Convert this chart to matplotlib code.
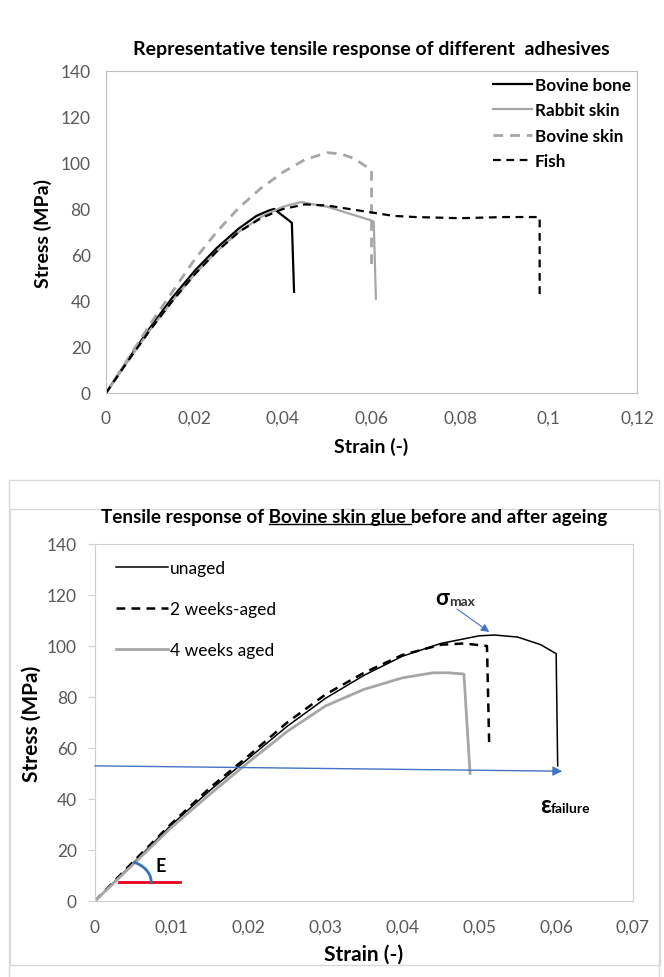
import matplotlib
matplotlib.use('Agg')
import numpy as np
import matplotlib.pyplot as plt
from matplotlib.patches import Rectangle
from matplotlib.lines import Line2D
from matplotlib.transforms import IdentityTransform
from matplotlib.ticker import FuncFormatter

plt.rcParams['font.family'] = ['Lato', 'DejaVu Sans']

# top chart: representative tensile response
bone_x = [0, 0.005, 0.01, 0.015, 0.02, 0.025, 0.03, 0.034, 0.037, 0.038, 0.042, 0.0425]
bone_y = [0, 14.5, 28.5, 41.5, 53, 63, 71.5, 77, 79.5, 80, 74, 44]
rabbit_x = [0, 0.005, 0.01, 0.015, 0.02, 0.025, 0.03, 0.035, 0.04, 0.044, 0.05, 0.055, 0.06, 0.0605, 0.061]
rabbit_y = [0, 14, 27.5, 40, 51.5, 61.5, 70, 76.5, 81, 83, 81, 78, 75, 74.5, 41]
bskin_x = [0, 0.005, 0.01, 0.015, 0.02, 0.025, 0.03, 0.035, 0.04, 0.045, 0.05, 0.053, 0.056, 0.06, 0.06]
bskin_y = [0, 15, 30, 44, 58, 70, 80.5, 89, 96, 101.5, 104.5, 104, 102, 97, 55]
fish_x = [0, 0.005, 0.01, 0.015, 0.02, 0.025, 0.03, 0.035, 0.04, 0.045, 0.05, 0.055, 0.06, 0.065, 0.07, 0.08, 0.09, 0.098, 0.098]
fish_y = [0, 14, 27.5, 40, 51.5, 61.5, 70, 76, 80, 82, 81.5, 80, 78.5, 77, 76.5, 76, 76.5, 76.5, 42]

# bottom chart: bovine skin glue ageing
unaged_x = [0, 0.005, 0.01, 0.015, 0.02, 0.025, 0.03, 0.035, 0.04, 0.045, 0.05, 0.052, 0.055, 0.058, 0.06, 0.0602]
unaged_y = [0, 15, 30, 43.5, 56, 68.5, 79.5, 88.5, 96, 101, 104, 104.3, 103.5, 100.5, 97, 53]
w2_x = [0, 0.005, 0.01, 0.015, 0.02, 0.025, 0.03, 0.035, 0.04, 0.045, 0.048, 0.051, 0.0513]
w2_y = [0, 15.5, 30.5, 44.5, 57, 70, 81, 89.5, 96.5, 100.5, 101, 100, 60]
w4_x = [0, 0.005, 0.01, 0.015, 0.02, 0.025, 0.03, 0.035, 0.04, 0.044, 0.046, 0.048, 0.0488]
w4_y = [0, 14.5, 29, 42, 54.5, 66.5, 76.5, 83, 87.5, 89.5, 89.5, 89, 50]

GRAY = '#a6a6a6'
BLUE = '#4472c4'
TICKC = '#595959'


def comma(v, pos):
    return ('%g' % v).replace('.', ',')


fig = plt.figure(figsize=(6.64, 9.78), dpi=100)

# panel frames
fig.add_artist(Rectangle((10, 12), 650, 456, transform=IdentityTransform(),
                         fill=False, edgecolor='#d9d9d9', lw=1))
fig.add_artist(Rectangle((9, -5), 650, 980 - 483 + 5, transform=IdentityTransform(),
                         fill=False, edgecolor='#d9d9d9', lw=1))

# ---------- top chart ----------
ax1 = fig.add_axes([106 / 664, 1 - 394 / 978, 531 / 664, 322 / 978])
ax1.plot(bone_x, bone_y, color='black', lw=1.6, label='Bovine bone')
ax1.plot(rabbit_x, rabbit_y, color=GRAY, lw=1.6, label='Rabbit skin')
ax1.plot(bskin_x, bskin_y, color=GRAY, lw=2, dashes=(3.5, 2.5), label='Bovine skin')
ax1.plot(fish_x, fish_y, color='black', lw=1.6, dashes=(3.5, 2.5), label='Fish')
ax1.set_xlim(0, 0.12)
ax1.set_ylim(0, 140)
ax1.set_xticks([0, 0.02, 0.04, 0.06, 0.08, 0.1, 0.12])
ax1.set_yticks(range(0, 141, 20))
ax1.xaxis.set_major_formatter(FuncFormatter(comma))
ax1.tick_params(axis='both', length=0, labelsize=12.5, colors=TICKC)
ax1.tick_params(axis='y', pad=11)
ax1.tick_params(axis='x', pad=12)
for s in ax1.spines.values():
    s.set_color('#bfbfbf')
ax1.set_xlabel('Strain (-)', fontsize=14, fontweight='bold', labelpad=8)
ax1.set_ylabel('Stress (MPa)', fontsize=14, fontweight='bold', labelpad=6)
ax1.set_title('Representative tensile response of different  adhesives',
              fontsize=14, fontweight='bold', pad=12)
leg1 = ax1.legend(loc='upper left', bbox_to_anchor=(0.70, 1.03), frameon=False,
                  fontsize=12.3, handlelength=2.3, handletextpad=0.15, labelspacing=0.55)
for t in leg1.get_texts():
    t.set_fontweight('bold')

# ---------- bottom chart ----------
ax2 = fig.add_axes([95 / 664, 1 - 902 / 978, 538 / 664, 357 / 978])
ax2.plot(unaged_x, unaged_y, color='black', lw=1.1, label='unaged')
ax2.plot(w2_x, w2_y, color='black', lw=1.8, dashes=(3.5, 2.5), label='2 weeks-aged')
ax2.plot(w4_x, w4_y, color=GRAY, lw=2, label='4 weeks aged')
ax2.set_xlim(0, 0.07)
ax2.set_ylim(0, 140)
ax2.set_xticks([0, 0.01, 0.02, 0.03, 0.04, 0.05, 0.06, 0.07])
ax2.set_yticks(range(0, 141, 20))
ax2.xaxis.set_major_formatter(FuncFormatter(comma))
ax2.tick_params(axis='both', labelsize=12.5, colors=TICKC)
ax2.tick_params(axis='x', length=0, pad=13)
ax2.tick_params(axis='y', length=5, color='#d0d0d0', pad=8)
for s in ax2.spines.values():
    s.set_color('#d0d0d0')
ax2.set_xlabel('Strain (-)', fontsize=15, fontweight='bold', labelpad=6)
ax2.set_ylabel('Stress (MPa)', fontsize=15, fontweight='bold', labelpad=4)
ax2.legend(loc='upper left', bbox_to_anchor=(0.01, 1.0), frameon=False,
           fontsize=12.5, handlelength=3.0, handletextpad=0.1, labelspacing=1.45)

# annotations
ax2.annotate('', xy=(0.0608, 50.9), xytext=(0, 53),
             arrowprops=dict(arrowstyle='-|>', color=BLUE, lw=1, mutation_scale=14,
                             shrinkA=0, shrinkB=0))
ax2.annotate('', xy=(0.0513, 105.5), xytext=(0.0471, 114.5),
             arrowprops=dict(arrowstyle='-|>', color=BLUE, lw=0.8, mutation_scale=12,
                             shrinkA=0, shrinkB=0))
sig = ax2.text(0.0443, 119, 'σ', fontsize=16, fontweight='bold', ha='left', va='center')
ax2.annotate('max', xy=(1, 0.05), xycoords=sig, fontsize=10, fontweight='bold',
             ha='left', va='bottom', color='#333333')
eps = ax2.text(0.0579, 38, 'ε', fontsize=17, fontweight='bold', ha='left', va='center')
ax2.annotate('failure', xy=(1, 0.05), xycoords=eps, fontsize=10, fontweight='bold',
             ha='left', va='bottom')
ax2.plot([0.0031, 0.011], [7.6, 7.6], color='#e8001c', lw=2)
th = np.radians(np.linspace(0, 62, 30))
ax2.plot(0.0033 + 0.004 * np.cos(th), 7.6 + 8.5 * np.sin(th), color='#2e75b6', lw=2)
ax2.text(0.0079, 14, 'E', fontsize=13, fontweight='bold', ha='left', va='center')

# bottom title with underlined part
title_y = 1 - 518 / 978
tprops = dict(fontsize=13.6, fontweight='bold', va='center')
full = 'Tensile response of Bovine skin glue before and after ageing'
ttl = fig.text(354 / 664, title_y, full, ha='center', **tprops)
fig.canvas.draw()
r = fig.canvas.get_renderer()


def text_w(s):
    tt = fig.text(0, 0, s, **tprops)
    w = tt.get_window_extent(renderer=r).width
    tt.remove()
    return w


sent = text_w('|')
bb = ttl.get_window_extent(renderer=r)
u0 = bb.x0 + text_w('Tensile response of |') - sent
u1 = bb.x0 + text_w('Tensile response of Bovine skin glue |') - sent
fig.add_artist(Line2D([u0, u1], [bb.y0 + 2, bb.y0 + 2], transform=IdentityTransform(),
                      color='black', lw=1))

fig.savefig('out.png', dpi=100)
